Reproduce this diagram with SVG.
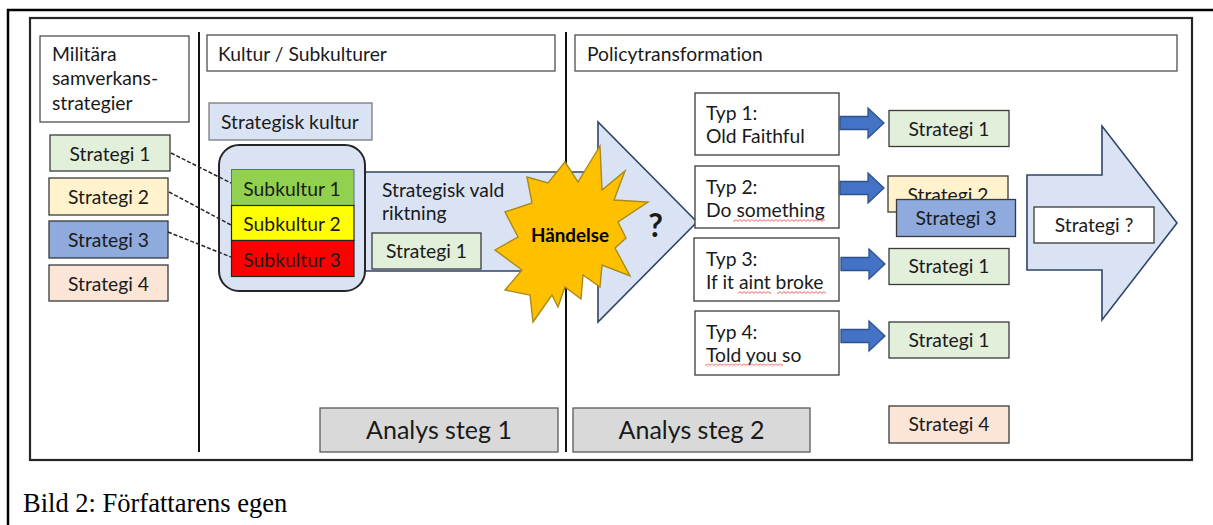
<svg xmlns="http://www.w3.org/2000/svg" width="1213" height="525" viewBox="0 0 1213 525">
<defs>
<style>
text{font-family:Lato,"Liberation Sans",sans-serif;font-size:19.3px;fill:#1a1a1a;font-variant-ligatures:none;font-feature-settings:"liga" 0,"clig" 0}
.c{text-anchor:middle}
.hdr{fill:#fff;stroke:#404040;stroke-width:1.2}
.box{stroke:#3a3a3a;stroke-width:1.3}
.g{fill:#e2efda}.y{fill:#fff2cc}.b{fill:#8faadc}.p{fill:#fbe5d6}.w{fill:#fff}
.an{fill:#d9d9d9;stroke:#5a5a5a;stroke-width:1.3}
.big{fill:#dae3f3;stroke:#2f4469;stroke-width:1.6}
.ba{fill:#4472c4;stroke:#2f528f;stroke-width:1.3}
.dash{stroke:#262626;stroke-width:1.5;stroke-dasharray:4 2;fill:none}
.div{stroke:#111;stroke-width:2}
.sq{fill:url(#sq)}
</style>
<pattern id="sq" width="4" height="3" patternUnits="userSpaceOnUse"><path d="M0 0.6 L2 2.4 L4 0.6" fill="none" stroke="#e02020" stroke-width="0.7"/></pattern>
</defs>
<rect width="1213" height="525" fill="#fff"/>
<g id="frame">
<path d="M8 525 V10 H1213" fill="none" stroke="#000" stroke-width="2.5"/>
<rect x="30" y="18" width="1162" height="442" fill="none" stroke="#262626" stroke-width="2.2"/>
<line class="div" x1="199" y1="32" x2="199" y2="452"/>
<line class="div" x1="566" y1="32" x2="566" y2="452"/>
</g>
<g id="hdr-militara"><rect class="hdr" x="40" y="36" width="149" height="86"/>
<text x="52" y="60.5">Militära</text><text x="52" y="85">samverkans-</text><text x="52" y="110">strategier</text></g>
<g id="hdr-kultur"><rect class="hdr" x="207" y="35" width="348" height="36"/><text x="218" y="60.5">Kultur / Subkulturer</text></g>
<g id="hdr-policy"><rect class="hdr" x="575" y="35" width="602" height="36"/><text x="587" y="60.5">Policytransformation</text></g>
<g id="l-strategi1"><rect class="box g" x="50" y="135" width="120" height="36"/><text class="c" x="110" y="161">Strategi 1</text></g>
<g id="l-strategi2"><rect class="box y" x="49" y="178" width="119" height="37"/><text class="c" x="108.5" y="203.5">Strategi 2</text></g>
<g id="l-strategi3"><rect class="box b" x="49" y="221" width="119" height="37"/><text class="c" x="108.5" y="246.5">Strategi 3</text></g>
<g id="l-strategi4"><rect class="box p" x="49" y="265" width="119" height="36"/><text class="c" x="108.5" y="290.5">Strategi 4</text></g>
<g id="strategisk-kultur"><rect x="209" y="103" width="163" height="37" fill="#dae3f3" stroke="#7a7a7a" stroke-width="1.3"/><text class="c" x="290" y="128.5">Strategisk kultur</text></g>
<g id="vald-riktning">
<polygon class="big" points="365,172 598,172 598,122 697,222 598,322 598,271 365,271"/>
<text x="382" y="197">Strategisk vald</text><text x="382" y="220">riktning</text>
<rect class="box g" x="372" y="233" width="109" height="36" stroke="#5a5a5a"/><text class="c" x="426.5" y="258">Strategi 1</text>
<text x="655.5" y="237" class="c" style="font-weight:bold;font-size:32px">?</text>
</g>
<g id="kultur-container">
<rect x="219" y="145" width="146" height="146" rx="20" fill="#dae3f3" stroke="#262626" stroke-width="2"/>
</g>
<g id="subkultur1"><rect x="231.5" y="169.5" width="122.5" height="36" fill="#92d050" stroke="#4f6fa8" stroke-width="1"/><text class="c" x="292" y="195.5">Subkultur 1</text></g>
<g id="subkultur2"><rect x="231.5" y="205.5" width="122.5" height="35" fill="#ffff00" stroke="#262626" stroke-width="1.2"/><text class="c" x="292" y="231">Subkultur 2</text></g>
<g id="subkultur3"><rect x="231.5" y="240.5" width="122.5" height="36" fill="#ff0000" stroke="#262626" stroke-width="1.2"/><text class="c" x="292" y="266.5">Subkultur 3</text></g>
<g id="handelse">
<polygon fill="#ffc000" stroke="#a88a1a" stroke-width="1.4" points="600,146 602,190 625,171 614,200 648,202 618,222 626,238 615,248 630,276 602,265 600,287 583,275 581,299 565,287 558,307 552,295 533,322 530,295 505,290 522,270 495,250 518,237 505,212 532,203 527,177 548,183 565,162 578,182"/>
<text class="c" x="570" y="241.5" style="font-weight:bold;font-size:18.8px;fill:#000">Händelse</text>
</g>
<g id="typ1"><rect class="box w" x="695" y="93" width="144" height="62"/><text x="706" y="120">Typ 1:</text><text x="706" y="142.5">Old Faithful</text></g>
<g id="typ2"><rect class="box w" x="695" y="166" width="144" height="62"/><text x="706" y="193.5">Typ 2:</text><text x="706" y="217">Do something</text><rect class="sq" x="733" y="219" width="92" height="3"/></g>
<g id="typ3"><rect class="box w" x="694" y="238" width="145" height="63"/><text x="706" y="265.5">Typ 3:</text><text x="706" y="288.5">If it aint broke</text><rect class="sq" x="738" y="291" width="33" height="3"/><rect class="sq" x="777" y="291" width="49" height="3"/></g>
<g id="typ4"><rect class="box w" x="695" y="311" width="144" height="64"/><text x="706" y="338.5">Typ 4:</text><text x="706" y="361.5">Told you so</text><rect class="sq" x="705" y="363.5" width="78" height="3"/></g>
<g id="connectors">
<line class="dash" x1="171" y1="153" x2="231" y2="183"/>
<line class="dash" x1="169" y1="192" x2="231" y2="225"/>
<line class="dash" x1="168" y1="232" x2="231" y2="257"/>
<polygon class="ba" points="840,116.5 868,116.5 868,108 884,123 868,138 868,129.5 840,129.5"/>
<polygon class="ba" points="840,181.5 868,181.5 868,173 884,188 868,203 868,194.5 840,194.5"/>
<polygon class="ba" points="841,257.5 869,257.5 869,249 885,264 869,279 869,270.5 841,270.5"/>
<polygon class="ba" points="841,329.5 869,329.5 869,321 885,336 869,351 869,342.5 841,342.5"/>
</g>
<g id="r-strategi1a"><rect class="box g" x="889" y="110.5" width="120" height="36"/><text class="c" x="949" y="135.5">Strategi 1</text></g>
<g id="r-strategi2"><rect class="box y" x="888" y="176" width="120" height="36"/><text class="c" x="948" y="201.5">Strategi 2</text></g>
<g id="r-strategi3"><rect class="box b" x="896.5" y="199.5" width="119" height="37"/><text class="c" x="956" y="225">Strategi 3</text></g>
<g id="r-strategi1b"><rect class="box g" x="889" y="248.5" width="120" height="36"/><text class="c" x="949" y="273">Strategi 1</text></g>
<g id="r-strategi1c"><rect class="box g" x="889" y="322" width="120" height="36"/><text class="c" x="949" y="347">Strategi 1</text></g>
<g id="r-strategi4"><rect class="box p" x="889" y="406" width="120" height="37"/><text class="c" x="949" y="431">Strategi 4</text></g>
<g id="strategi-q">
<polygon class="big" points="1027,175 1102,175 1102,126 1177,223 1102,320 1102,270 1027,270"/>
<rect class="box w" x="1034" y="207" width="120" height="36"/><text class="c" x="1094" y="232">Strategi ?</text>
</g>
<g id="analys1"><rect class="an" x="320" y="408" width="238" height="44"/><text class="c" x="439" y="439" style="font-size:25px">Analys steg 1</text></g>
<g id="analys2"><rect class="an" x="573" y="408" width="237" height="44"/><text class="c" x="691.5" y="439" style="font-size:25px">Analys steg 2</text></g>
<text x="23" y="512" style="font-family:'Liberation Serif',serif;font-size:26.5px;fill:#000">Bild 2: Författarens egen</text>
</svg>
